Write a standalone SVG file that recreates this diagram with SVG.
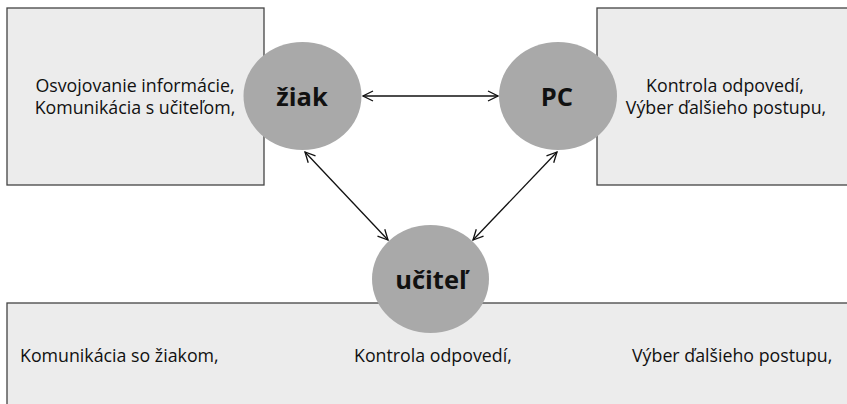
<svg xmlns="http://www.w3.org/2000/svg" width="847" height="404" viewBox="0 0 847 404">
<defs>
<marker id="ah" viewBox="0 0 12 12" refX="11" refY="6" markerWidth="12" markerHeight="12" markerUnits="userSpaceOnUse" orient="auto-start-reverse">
<path d="M1,1 L11,6 L1,11" fill="none" stroke="#111" stroke-width="1.3"/>
</marker>
</defs>
<style>
.box{fill:#ececec;stroke:#444;stroke-width:1.3}
.node{fill:#a9a9a9}
.t{font-family:"Open Sans","Noto Sans","Liberation Sans",sans-serif;font-size:17.8px;fill:#111}
.lbl{font-family:"Open Sans","Noto Sans","Liberation Sans",sans-serif;font-size:25.5px;font-weight:bold;fill:#111;text-anchor:middle}
.c{stroke:#111;stroke-width:1.3;fill:none;marker-start:url(#ah);marker-end:url(#ah)}
</style>
<rect width="847" height="404" fill="#fff"/>
<g id="box-ziak">
<rect class="box" x="7" y="8" width="257" height="177"/>
<text class="t" x="135" y="92" text-anchor="middle">Osvojovanie informácie,</text>
<text class="t" x="135" y="114" text-anchor="middle">Komunikácia s učiteľom,</text>
</g>
<g id="box-pc">
<rect class="box" x="597" y="8" width="260" height="177"/>
<text class="t" x="725" y="92" text-anchor="middle">Kontrola odpovedí,</text>
<text class="t" x="726" y="114" text-anchor="middle">Výber ďalšieho postupu,</text>
</g>
<g id="box-ucitel">
<rect class="box" x="7" y="303" width="850" height="110"/>
<text class="t" x="20" y="362">Komunikácia so žiakom,</text>
<text class="t" x="354" y="362">Kontrola odpovedí,</text>
<text class="t" x="632" y="362">Výber ďalšieho postupu,</text>
</g>
<g id="ziak">
<ellipse class="node" cx="302.5" cy="96" rx="59" ry="54"/>
<text class="lbl" x="302" y="106">žiak</text>
</g>
<g id="pc">
<ellipse class="node" cx="558" cy="96" rx="59" ry="54"/>
<text class="lbl" x="557" y="106">PC</text>
</g>
<g id="ucitel">
<ellipse class="node" cx="430.5" cy="279" rx="58.5" ry="54"/>
<text class="lbl" x="431" y="289">učiteľ</text>
</g>
<g id="connectors">
<line class="c" x1="363" y1="96" x2="498" y2="96"/>
<line class="c" x1="305" y1="152" x2="388" y2="240"/>
<line class="c" x1="557" y1="152" x2="473" y2="240"/>
</g>
</svg>
